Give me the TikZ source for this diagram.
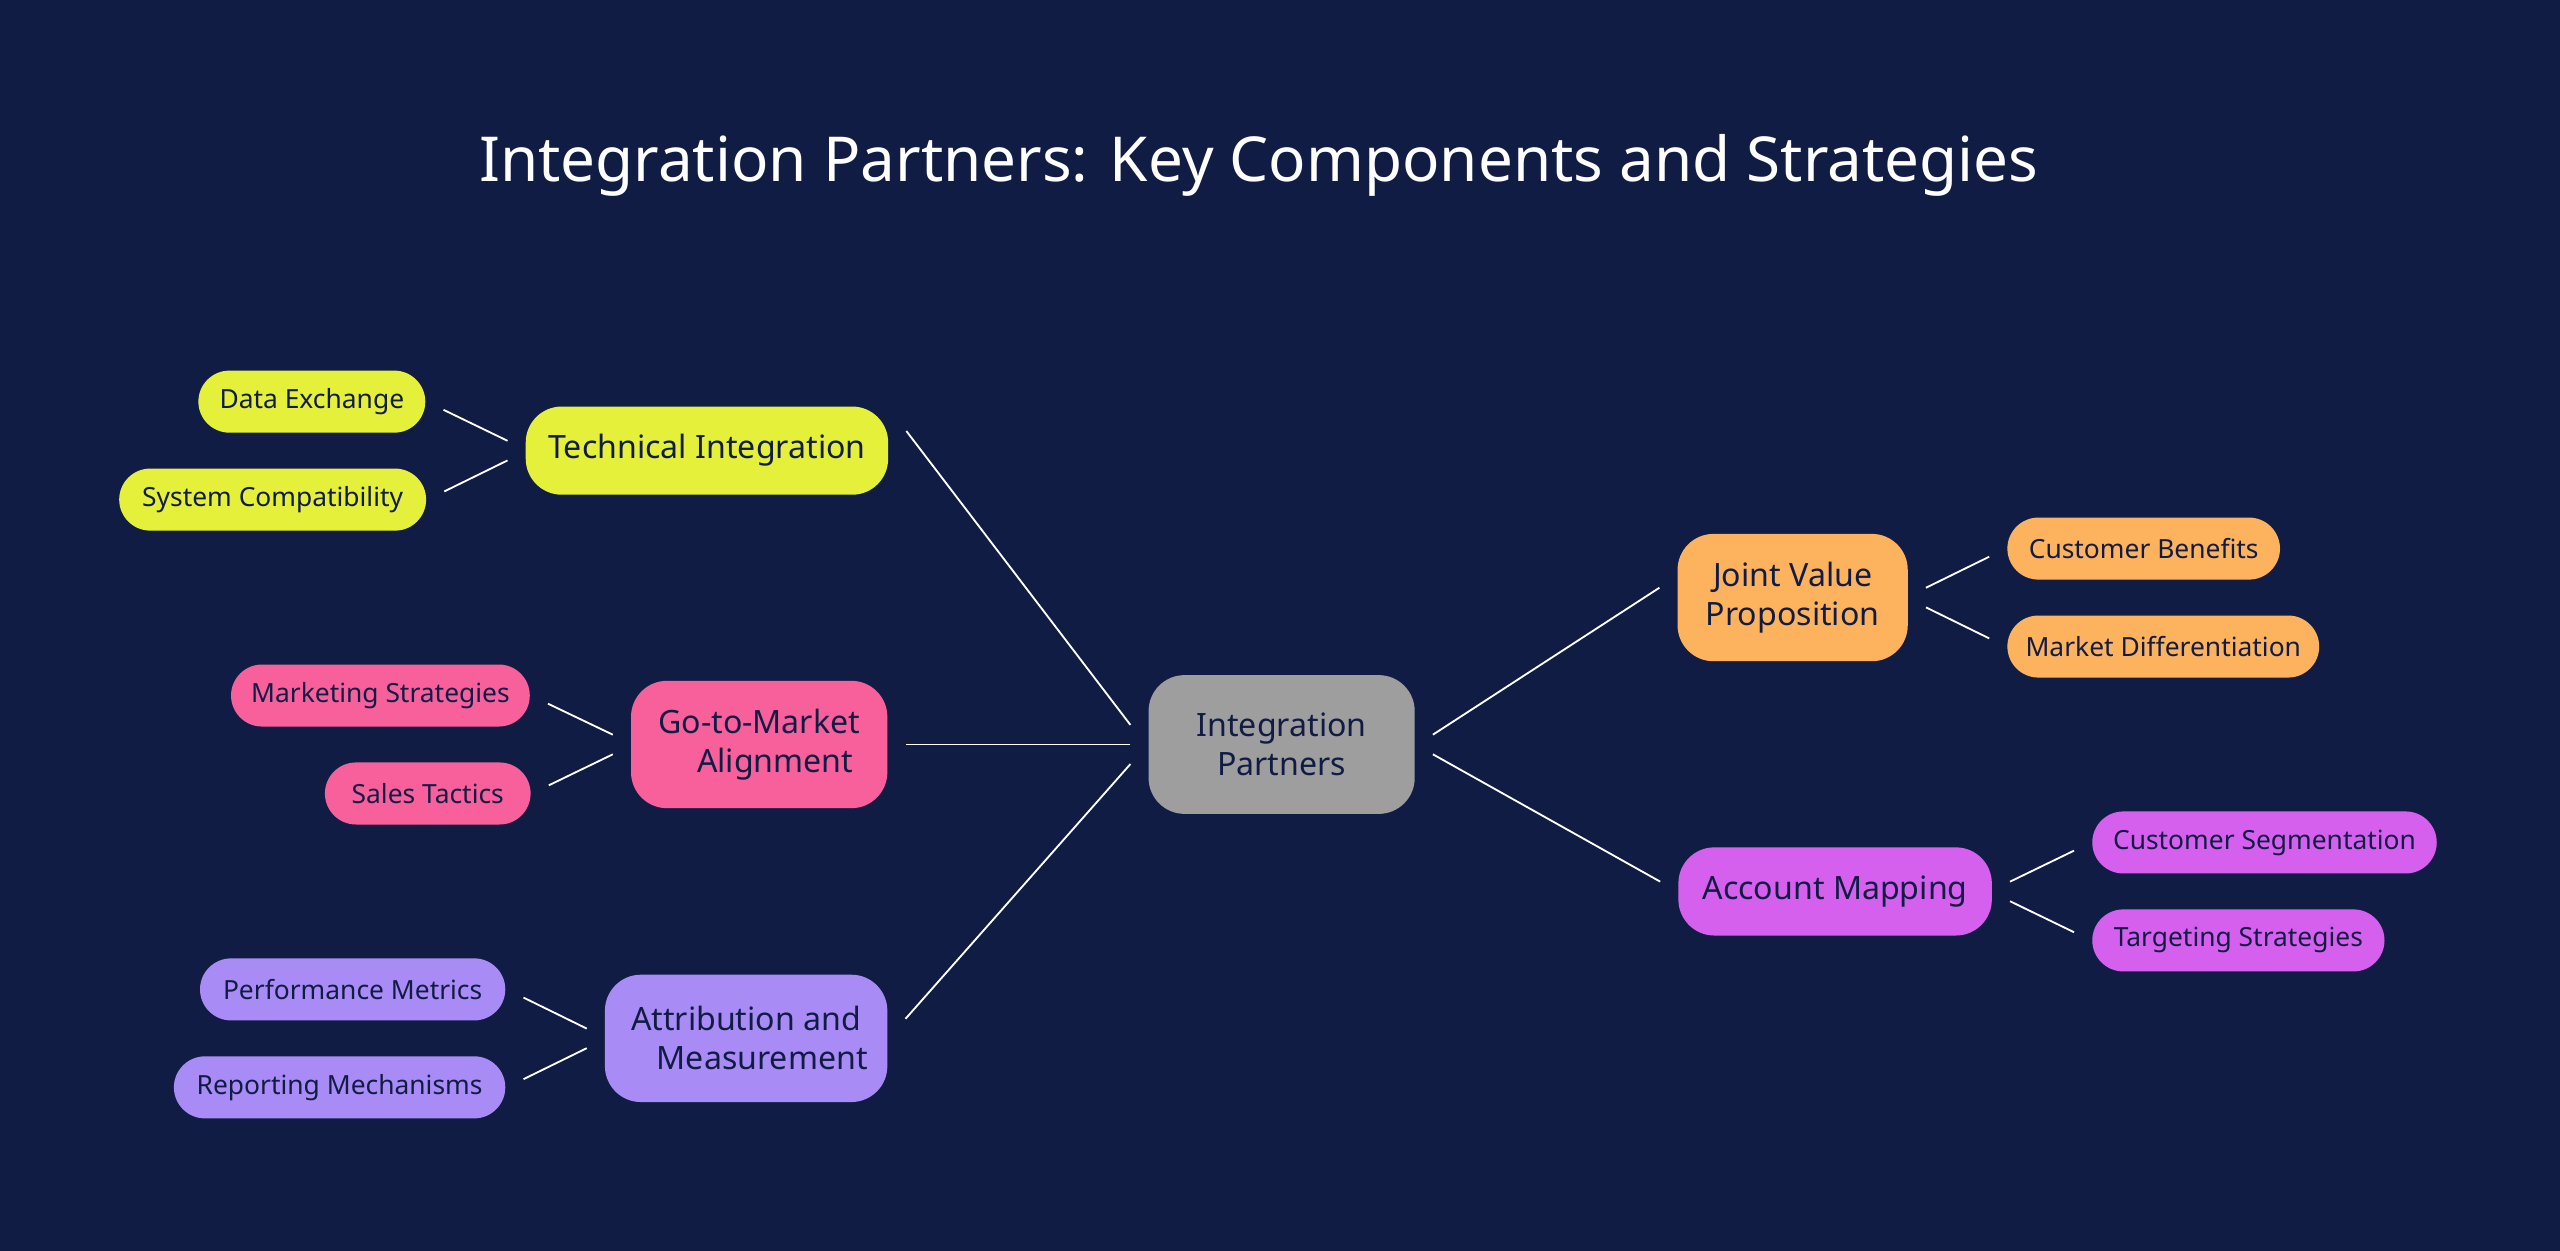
\documentclass[tikz,border=0pt]{standalone}
\usepackage{fontspec}
\setmainfont{Noto Sans}
\begin{document}
\begin{tikzpicture}[x=0.05cm,y=-0.05cm,
  base/.style={text=navy, inner sep=0pt, align=center},
  small/.style={base, rounded corners=0.95cm, minimum height=1.9cm, font=\fontsize{23}{27}\selectfont},
  mid/.style={base, rounded corners=1.1cm, font=\fontsize{28}{34}\selectfont},
  ln/.style={white, line width=1.6pt, shorten <=11\pgflinewidth, shorten >=11\pgflinewidth},
  sl/.style={white, line width=1.6pt}]
\definecolor{bg}{HTML}{111C45}
\definecolor{navy}{HTML}{111C45}
\definecolor{cy}{HTML}{E5F03A}
\definecolor{cp}{HTML}{F7609A}
\definecolor{cv}{HTML}{A98BF5}
\definecolor{co}{HTML}{FDB35E}
\definecolor{cm}{HTML}{D660EE}
\definecolor{cg}{HTML}{9E9E9E}
\fill[bg] (0,0) rectangle (1568,766);
\useasboundingbox (0,0) rectangle (1568,766);
\node[text=white, font=\bfseries\fontsize{54}{60}\selectfont] (title) at (771,101) {Integration Partners: Key Components and Strategies};
\node[mid, fill=cg, minimum width=8.15cm, minimum height=4.25cm, font=\bfseries\fontsize{28}{34}\selectfont] (c) at (785,456) {Integration\\Partners};
\node[mid, fill=cy, minimum width=11.1cm, minimum height=2.7cm] (ti) at (433,276) {Technical Integration};
\node[mid, fill=cp, minimum width=7.85cm, minimum height=3.9cm] (gm) at (465,456) {Go-to-Market\\\quad Alignment};
\node[mid, fill=cv, minimum width=8.65cm, minimum height=3.9cm] (am) at (457,636) {Attribution and\\\quad Measurement};
\node[mid, fill=co, minimum width=7.05cm, minimum height=3.9cm] (jv) at (1098,366) {Joint Value\\Proposition};
\node[mid, fill=cm, minimum width=9.6cm, minimum height=2.7cm] (ac) at (1124,546) {Account Mapping};
\node[small, fill=cy, minimum width=6.95cm] (de) at (191,246) {Data Exchange};
\node[small, fill=cy, minimum width=9.4cm] (sc) at (167,306) {System Compatibility};
\node[small, fill=cp, minimum width=9.15cm] (ms) at (233,426) {Marketing Strategies};
\node[small, fill=cp, minimum width=6.3cm] (st) at (262,486) {Sales Tactics};
\node[small, fill=cv, minimum width=9.35cm] (pm) at (216,606) {Performance Metrics};
\node[small, fill=cv, minimum width=10.15cm] (rm) at (208,666) {Reporting Mechanisms};
\node[small, fill=co, minimum width=8.35cm] (cb) at (1313,336) {Customer Benefits};
\node[small, fill=co, minimum width=9.55cm] (md) at (1325,396) {Market Differentiation};
\node[small, fill=cm, minimum width=10.55cm] (cs) at (1387,516) {Customer Segmentation};
\node[small, fill=cm, minimum width=8.95cm] (ts) at (1371,576) {Targeting Strategies};
% main connectors
\draw[sl] ([xshift=-11*0.05cm,yshift=12*0.05cm]c.west) -- ([xshift=11*0.05cm,yshift=12*0.05cm]ti.east);
\draw[sl] ([xshift=-11*0.05cm]c.west) -- ([xshift=11*0.05cm]gm.east);
\draw[sl] ([xshift=-11*0.05cm,yshift=-12*0.05cm]c.west) -- ([xshift=11*0.05cm,yshift=12*0.05cm]am.east);
\draw[sl] ([xshift=11*0.05cm,yshift=6*0.05cm]c.east) -- ([xshift=-11*0.05cm,yshift=6*0.05cm]jv.west);
\draw[sl] ([xshift=11*0.05cm,yshift=-6*0.05cm]c.east) -- ([xshift=-11*0.05cm,yshift=6*0.05cm]ac.west);
% sub connectors
\foreach \p/\a/\b in {ti/de/1, ti/sc/-1, gm/ms/1, gm/st/-1, am/pm/1, am/rm/-1}{
  \draw[sl] ([xshift=-11*0.05cm,yshift=\b*6*0.05cm]\p.west) -- ([xshift=11*0.05cm,yshift=-\b*5*0.05cm]\a.east);
}
\foreach \p/\a/\b in {jv/cb/1, jv/md/-1, ac/cs/1, ac/ts/-1}{
  \draw[sl] ([xshift=11*0.05cm,yshift=\b*6*0.05cm]\p.east) -- ([xshift=-11*0.05cm,yshift=-\b*5*0.05cm]\a.west);
}
\end{tikzpicture}
\end{document}
